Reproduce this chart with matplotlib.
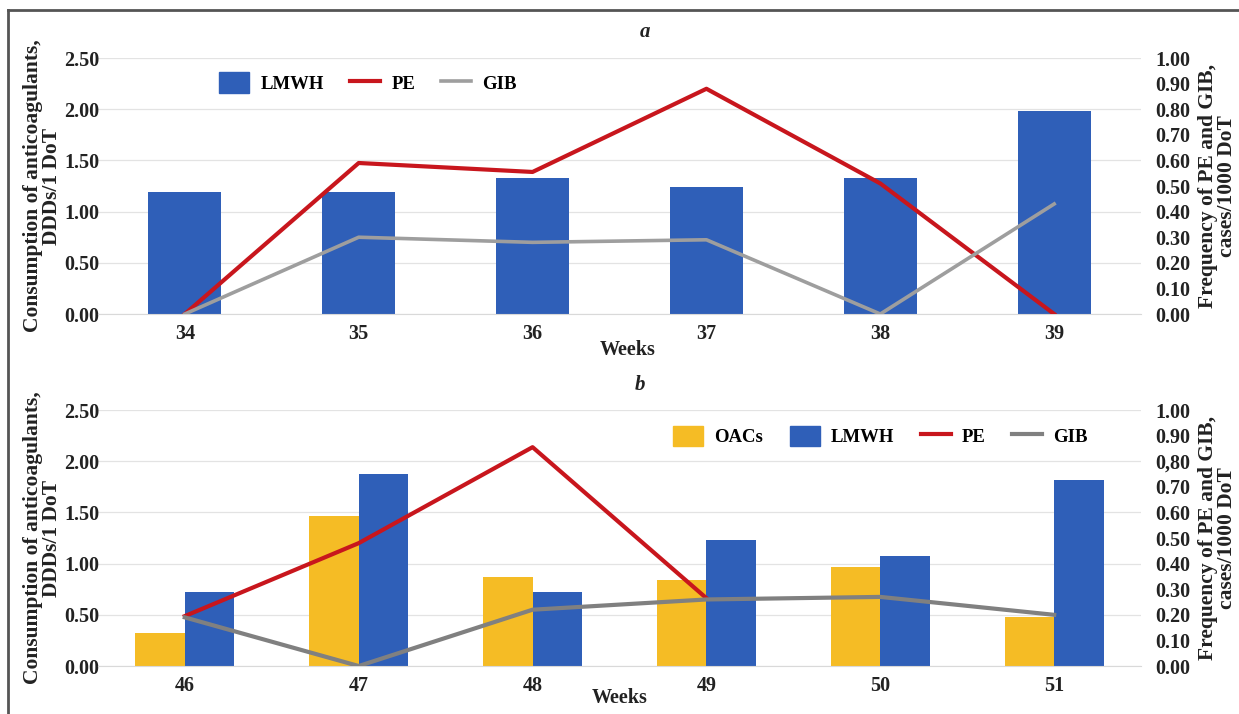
import matplotlib
matplotlib.use("Agg")
import matplotlib.pyplot as plt
import numpy as np
from matplotlib.lines import Line2D
from matplotlib.patches import Patch

# panel a
weeks_a = ["34", "35", "36", "37", "38", "39"]
lmwh_a = [1.19, 1.19, 1.33, 1.24, 1.33, 1.98]
pe_a = [0.0, 0.59, 0.555, 0.88, 0.51, 0.0]
gib_a = [0.0, 0.30, 0.28, 0.29, 0.0, 0.43]

# panel b
weeks_b = ["46", "47", "48", "49", "50", "51"]
oacs_b = [0.32, 1.47, 0.87, 0.84, 0.97, 0.48]
lmwh_b = [0.72, 1.88, 0.72, 1.23, 1.07, 1.82]
pe_b = [0.195, 0.48, 0.855, 0.265, np.nan, np.nan]
gib_b = [0.19, 0.0, 0.22, 0.26, 0.27, 0.20]

left_ticks = [0.0, 0.5, 1.0, 1.5, 2.0, 2.5]
right_ticks = [0.0, 0.1, 0.2, 0.3, 0.4, 0.5, 0.6, 0.7, 0.8, 0.9, 1.0]
right_labels_a = ["%.2f" % v for v in right_ticks]
right_labels_b = list(right_labels_a)
right_labels_b[8] = "0,80"  # as printed in the source

BLUE = "#2F5FB8"
YELLOW = "#F5BC25"
RED = "#C8161D"
GREY_A = "#9E9E9E"
GREY_B = "#808080"
TXT = "#222222"

plt.rcParams["font.family"] = ["Liberation Serif", "DejaVu Serif"]
plt.rcParams["font.weight"] = "bold"
FS_TICK = 14.5
FS_LAB = 15.5
FS_LEG = 13.5
LW = 3.0

fig = plt.figure(figsize=(12.39, 7.14), dpi=100)


def setup(ax, ax2, labels, rlabels):
    x = np.arange(len(labels))
    ax.set_xlim(-0.5, len(labels) - 0.5)
    ax.set_ylim(0, 2.5)
    ax.set_yticks(left_ticks)
    ax.set_yticklabels(["%.2f" % v for v in left_ticks])
    ax.set_xticks(x)
    ax.set_xticklabels(labels)
    ax.tick_params(axis="x", length=0, labelsize=FS_TICK, colors=TXT, pad=7)
    ax.tick_params(axis="y", length=0, labelsize=FS_TICK, colors=TXT, pad=-1)
    ax.grid(axis="y", color="#e3e3e3", lw=0.9)
    ax.set_axisbelow(True)
    for s in ["top", "right", "left"]:
        ax.spines[s].set_visible(False)
    ax.spines["bottom"].set_color("#d9d9d9")
    ax.set_ylabel("Consumption of anticoagulants,\nDDDs/1 DoT", fontsize=FS_LAB,
                  fontweight="bold", color=TXT, linespacing=0.95)
    ax.yaxis.set_label_coords(-0.034, 0.5)

    ax2.set_ylim(0, 1.0)
    ax2.set_yticks(right_ticks)
    ax2.set_yticklabels(rlabels)
    ax2.tick_params(length=0, labelsize=FS_TICK, colors=TXT, pad=10)
    for s in ["top", "right", "left", "bottom"]:
        ax2.spines[s].set_visible(False)
    ax2.set_ylabel("Frequency of PE and GIB,\ncases/1000 DoT", fontsize=FS_LAB,
                   fontweight="bold", color=TXT, linespacing=0.9)
    ax2.yaxis.set_label_coords(1.055, 0.5)
    return x


# ---- panel a ----
axa = fig.add_axes([0.079, 0.5602, 0.842, 0.3585])
axa2 = axa.twinx()
x = setup(axa, axa2, weeks_a, right_labels_a)
axa.bar(x, lmwh_a, width=0.42, color=BLUE)
axa2.plot(x, pe_a, color=RED, lw=LW)
axa2.plot(x, gib_a, color=GREY_A, lw=2.6)
handles = [Patch(color=BLUE), Line2D([], [], color=RED, lw=LW),
           Line2D([], [], color=GREY_A, lw=2.6)]
axa2.legend(handles, ["LMWH", "PE", "GIB"], loc="upper left",
            bbox_to_anchor=(0.1, 1.01), ncol=3, frameon=False, fontsize=FS_LEG,
            handlelength=1.6, handleheight=1.3, columnspacing=1.4, handletextpad=0.6)
fig.text(645 / 1239, 1 - 32 / 714, "a", fontsize=15, style="italic",
         fontweight="bold", ha="center", va="center", color=TXT)
fig.text(628 / 1239, 1 - 350 / 714, "Weeks", fontsize=FS_TICK,
         fontweight="bold", ha="center", va="center", color=TXT)

# ---- panel b ----
axb = fig.add_axes([0.079, 0.0672, 0.842, 0.3585])
axb2 = axb.twinx()
x = setup(axb, axb2, weeks_b, right_labels_b)
bw = 0.285
axb.bar(x - bw / 2, oacs_b, width=bw, color=YELLOW)
axb.bar(x + bw / 2, lmwh_b, width=bw, color=BLUE)
axb2.plot(x, pe_b, color=RED, lw=LW)
axb2.plot(x, gib_b, color=GREY_B, lw=LW)
handles = [Patch(color=YELLOW), Patch(color=BLUE),
           Line2D([], [], color=RED, lw=LW), Line2D([], [], color=GREY_B, lw=LW)]
axb2.legend(handles, ["OACs", "LMWH", "PE", "GIB"], loc="upper right",
            bbox_to_anchor=(0.965, 1.005), ncol=4, frameon=False, fontsize=FS_LEG,
            handlelength=1.6, handleheight=1.3, columnspacing=1.4, handletextpad=0.6)
fig.text(640 / 1239, 1 - 385 / 714, "b", fontsize=15, style="italic",
         fontweight="bold", ha="center", va="center", color=TXT)
fig.text(620 / 1239, 1 - 698 / 714, "Weeks", fontsize=FS_TICK,
         fontweight="bold", ha="center", va="center", color=TXT)

# outer frame
fig.add_artist(Line2D([8 / 1239, 1], [1 - 10 / 714, 1 - 10 / 714],
                      transform=fig.transFigure, color="#555555", lw=2))
fig.add_artist(Line2D([8 / 1239, 8 / 1239], [0, 1 - 10 / 714],
                      transform=fig.transFigure, color="#555555", lw=2))

fig.savefig("out.png", dpi=100, facecolor="white")
